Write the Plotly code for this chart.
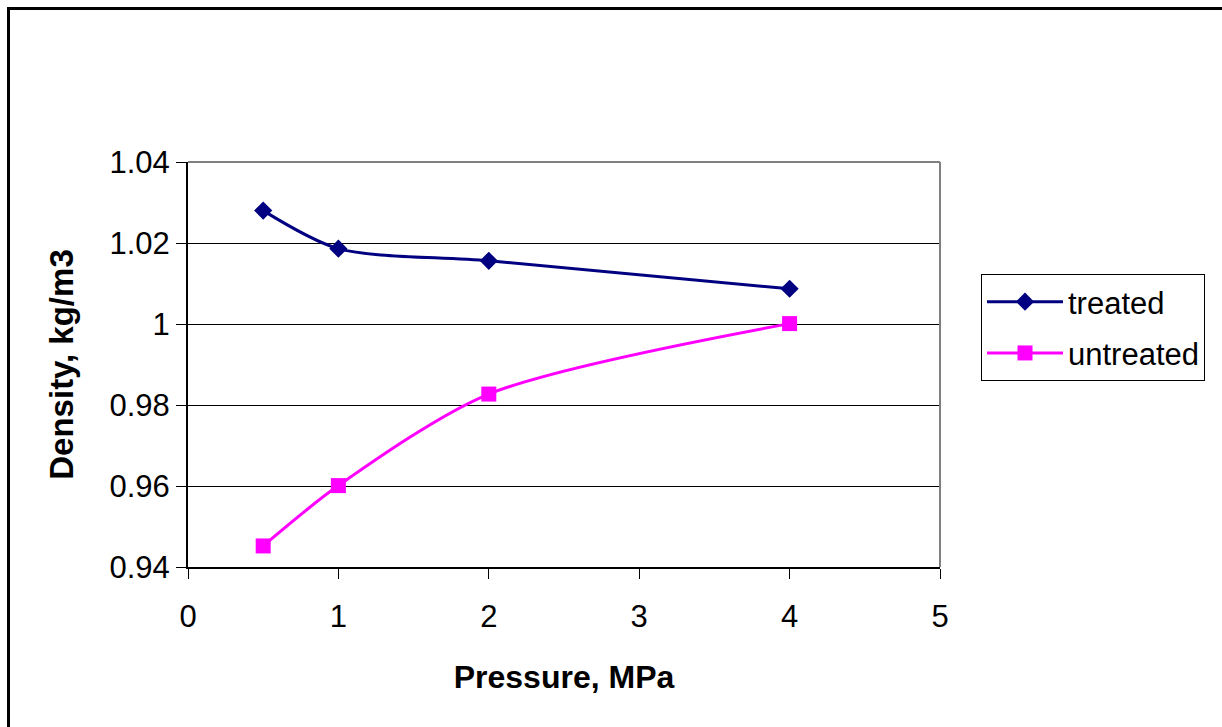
import plotly.graph_objects as go

# Pressure (MPa) and measured density (kg/m3)
pressure = [0.5, 1, 2, 4]
treated = [1.028, 1.0186, 1.0156, 1.0087]
untreated = [0.9452, 0.9601, 0.9827, 1.0001]

x_ticks = [0, 1, 2, 3, 4, 5]
y_ticks = [0.94, 0.96, 0.98, 1.00, 1.02, 1.04]
y_tick_text = ["0.94", "0.96", "0.98", "1", "1.02", "1.04"]

W, H = 1222, 727
L, R, T, B = 188, 940, 162, 567  # plot area in pixels

FONT = "Liberation Sans, Arial, sans-serif"

fig = go.Figure()
fig.add_trace(go.Scatter(
    x=pressure, y=treated, name="treated", mode="lines+markers",
    legendgroup="treated",
    line=dict(color="#000080", width=3, shape="spline", smoothing=0.8),
    marker=dict(symbol="diamond", size=14, color="#000080"),
))
fig.add_trace(go.Scatter(
    x=pressure, y=untreated, name="untreated", mode="lines+markers",
    legendgroup="untreated",
    line=dict(color="#FF00FF", width=3, shape="spline", smoothing=0.8),
    marker=dict(symbol="square", size=15, color="#FF00FF"),
))


def px_x(p):
    return (p - L) / (R - L)


def px_y(p):
    return (B - p) / (B - T)


shapes = [
    # outer chart frame
    dict(type="rect", xref="paper", yref="paper",
         x0=px_x(8.5), x1=px_x(1240), y0=px_y(745), y1=px_y(8.5),
         line=dict(color="black", width=3), layer="below"),
    # plot-area top and right border
    dict(type="line", xref="paper", yref="paper",
         x0=0, x1=1, y0=1, y1=1, line=dict(color="#808080", width=2)),
    dict(type="line", xref="paper", yref="paper",
         x0=1, x1=1, y0=0, y1=1, line=dict(color="#808080", width=2)),
]

fig.update_layout(
    width=W, height=H,
    margin=dict(l=L, r=W - R, t=T, b=H - B, pad=0),
    paper_bgcolor="white", plot_bgcolor="white",
    font=dict(family=FONT, size=31, color="black"),
    showlegend=True,
    legend=dict(
        x=px_x(981), y=px_y(274), xanchor="left", yanchor="top",
        bordercolor="black", borderwidth=1, bgcolor="white",
        font=dict(family=FONT, size=31, color="black"),
        traceorder="grouped", tracegroupgap=8, itemwidth=76,
    ),
    shapes=shapes,
    xaxis=dict(
        range=[0, 5], tickvals=x_ticks, ticktext=[str(v) for v in x_ticks],
        showgrid=False, zeroline=False,
        showline=True, linecolor="black", linewidth=2,
        ticks="outside", ticklen=10, tickwidth=1, tickcolor="black",
        tickfont=dict(family=FONT, size=31),
        ticklabelstandoff=11,
        title=dict(text="<b>Pressure, MPa</b>", standoff=32,
                   font=dict(family=FONT, size=32)),
    ),
    yaxis=dict(
        range=[0.94, 1.04], tickvals=y_ticks, ticktext=y_tick_text,
        showgrid=True, gridcolor="black", gridwidth=1,
        zeroline=False,
        showline=True, linecolor="black", linewidth=2,
        ticks="outside", ticklen=10, tickwidth=1, tickcolor="black",
        tickfont=dict(family=FONT, size=31),
        title=dict(text="<b>Density, kg/m3</b>", standoff=26,
                   font=dict(family=FONT, size=33)),
    ),
)

fig.write_html("out.html")
